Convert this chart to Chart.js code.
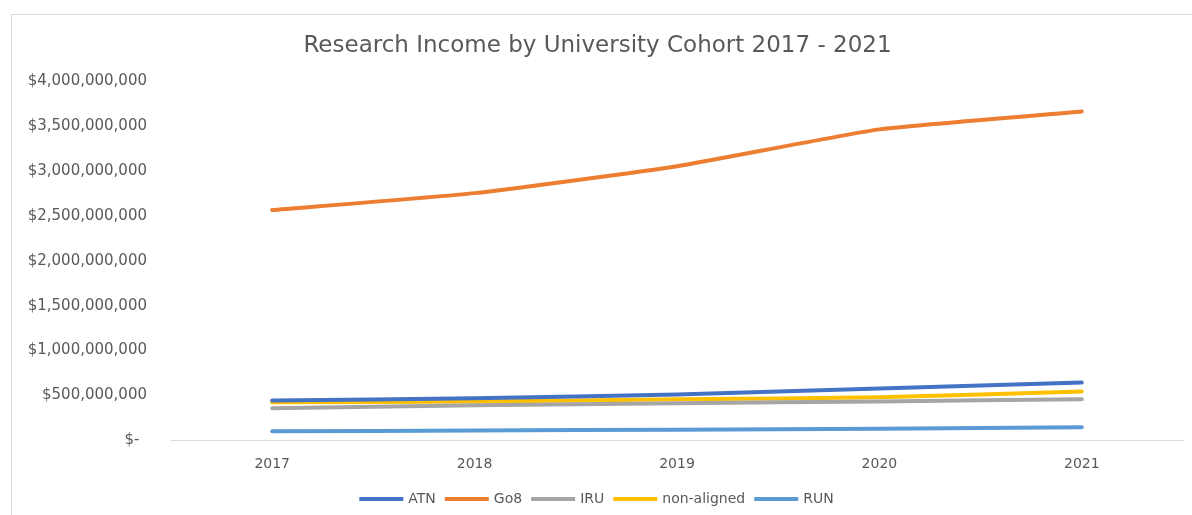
<!DOCTYPE html>
<html>
<head>
<meta charset="utf-8">
<script src="https://cdn.jsdelivr.net/npm/chart.js@4"></script>
<style>
  html, body { margin: 0; padding: 0; background: #fff; overflow: hidden; }
  .chart-box {
    position: absolute;
    left: 11px;
    top: 14px;
    width: 1198px;
    height: 520px;
    border: 1px solid #d9d9d9;
  }
  .chart-box canvas { position: absolute; left: 0; top: 0; }
</style>
</head>
<body>
<div class="chart-box">
  <canvas id="incomeChart" width="1196" height="501" style="width:1196px;height:501px"></canvas>
</div>
<script>
// Chart data
const years = ['2017', '2018', '2019', '2020', '2021'];
const atn = [444e6, 467e6, 511e6, 578e6, 644e6];
const go8 = [2567e6, 2756e6, 3056e6, 3467e6, 3667e6];
const iru = [356e6, 389e6, 411e6, 433e6, 456e6];
const nonAligned = [422e6, 433e6, 456e6, 478e6, 544e6];
const run = [100e6, 108e6, 117e6, 128e6, 144e6];
const yTicks = [0, 5e8, 1e9, 1.5e9, 2e9, 2.5e9, 3e9, 3.5e9, 4e9];

const textColor = '#595959';
const fontFamily = "'DejaVu Sans', sans-serif";

function series(label, data, color) {
  return {
    label: label,
    data: data,
    borderColor: color,
    backgroundColor: color,
    borderWidth: 4,
    borderCapStyle: 'round',
    pointRadius: 0,
    pointHoverRadius: 0,
    tension: 0.15,
    fill: false
  };
}

const ctx = document.getElementById('incomeChart').getContext('2d');
new Chart(ctx, {
  type: 'line',
  data: {
    labels: years,
    datasets: [
      series('ATN', atn, '#4472C4'),
      series('Go8', go8, '#ED7D31'),
      series('IRU', iru, '#A5A5A5'),
      series('non-aligned', nonAligned, '#FFC000'),
      series('RUN', run, '#5B9BD5')
    ]
  },
  options: {
    responsive: false,
    animation: false,
    layout: {
      padding: { top: 0, left: 0, right: 25, bottom: 0 }
    },
    plugins: {
      title: {
        display: true,
        text: 'Research Income by University Cohort 2017 - 2021',
        color: textColor,
        font: { family: fontFamily, size: 23, weight: 'normal' },
        padding: { top: 17, bottom: 22 }
      },
      legend: {
        position: 'bottom',
        labels: {
          color: textColor,
          font: { family: fontFamily, size: 14 },
          boxWidth: 40,
          boxHeight: 0.1,
          padding: 11
        }
      },
      tooltip: { enabled: false }
    },
    scales: {
      x: {
        offset: true,
        grid: { display: false },
        border: { display: true, color: '#d9d9d9', width: 1 },
        ticks: {
          color: textColor,
          font: { family: fontFamily, size: 14 },
          padding: 8
        }
      },
      y: {
        min: 0,
        max: 4e9,
        grid: { display: false },
        border: { display: false },
        afterBuildTicks: (scale) => {
          scale.ticks = yTicks.map(v => ({ value: v }));
        },
        afterFit: (scale) => {
          scale.width = 159;
        },
        ticks: {
          color: textColor,
          font: { family: fontFamily, size: 15 },
          padding: 16,
          callback: (value) => value === 0 ? '$-\u2002' : '$' + value.toLocaleString('en-US')
        }
      }
    }
  }
});
</script>
</body>
</html>
